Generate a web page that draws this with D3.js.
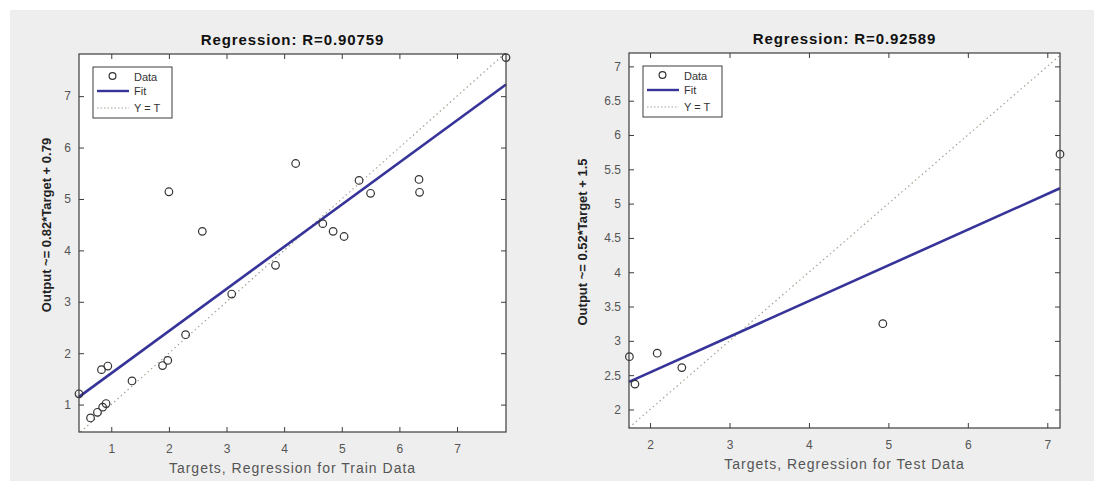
<!DOCTYPE html>
<html>
<head>
<meta charset="utf-8">
<script src="https://cdn.jsdelivr.net/npm/d3@7"></script>
<style>
  body { margin: 0; background: #fff; }
  text { font-family: "Liberation Sans", Arial, sans-serif; }
</style>
</head>
<body>
<div id="chart"></div>
<script>
// train data (targets vs network outputs)
const trainTargets = [0.44, 0.64, 0.76, 0.85, 0.91, 0.83, 0.94, 1.36, 1.89, 1.98, 2.29, 2.00, 2.58, 3.09, 3.85, 4.20, 4.67, 4.85, 5.04, 5.30, 5.50, 6.34, 6.35, 7.85];
const trainOutputs = [1.21, 0.74, 0.85, 0.95, 1.02, 1.68, 1.75, 1.46, 1.76, 1.86, 2.36, 5.14, 4.37, 3.15, 3.71, 5.69, 4.52, 4.37, 4.27, 5.36, 5.11, 5.38, 5.13, 7.75];
const trainFit = [0.82, 0.79]; // slope, intercept
const trainXTicks = [1, 2, 3, 4, 5, 6, 7];
const trainYTicks = [1, 2, 3, 4, 5, 6, 7];

// test data
const testTargets = [1.74, 1.81, 2.09, 2.40, 4.93, 7.16];
const testOutputs = [2.77, 2.37, 2.82, 2.61, 3.25, 5.72];
const testFit = [0.52, 1.5];
const testXTicks = [2, 3, 4, 5, 6, 7];
const testYTicks = [2, 2.5, 3, 3.5, 4, 4.5, 5, 5.5, 6, 6.5, 7];

const legendLabels = ["Data", "Fit", "Y = T"];

const W = 1094, H = 481;
const fitColor = "#363399";
const axisColor = "#3c3c3c";

const svg = d3.select("#chart").append("svg")
  .attr("width", W).attr("height", H);

svg.append("rect").attr("width", W).attr("height", H).attr("fill", "#fff");
svg.append("rect").attr("x", 10).attr("y", 10).attr("width", W - 10).attr("height", H - 10).attr("fill", "#eeeeee");

function drawPanel(opt) {
  const w = opt.right - opt.left, h = opt.bottom - opt.top;
  const g = svg.append("g").attr("transform", "translate(" + opt.left + "," + opt.top + ")");

  const x = d3.scaleLinear().domain(opt.xDomain).range([0, w]);
  const y = d3.scaleLinear().domain(opt.yDomain).range([h, 0]);

  g.append("rect").attr("width", w).attr("height", h).attr("fill", "#fff");

  // Y = T line
  const lo = Math.max(opt.xDomain[0], opt.yDomain[0]);
  const hi = Math.min(opt.xDomain[1], opt.yDomain[1]);
  g.append("line")
    .attr("x1", x(lo)).attr("y1", y(lo))
    .attr("x2", x(hi)).attr("y2", y(hi))
    .attr("stroke", "#a3a394").attr("stroke-width", 1.2)
    .attr("stroke-dasharray", "1.5,3");

  // fit line
  const fx = opt.xDomain;
  g.append("path")
    .datum(fx.map(v => [v, opt.fit[0] * v + opt.fit[1]]))
    .attr("fill", "none")
    .attr("stroke", fitColor)
    .attr("stroke-width", 2.6)
    .attr("d", d3.line().x(d => x(d[0])).y(d => y(d[1])));

  // data points
  g.append("g").selectAll("circle")
    .data(opt.targets.map((t, i) => [t, opt.outputs[i]]))
    .enter().append("circle")
    .attr("cx", d => x(d[0]))
    .attr("cy", d => y(d[1]))
    .attr("r", 3.8)
    .attr("fill", "none")
    .attr("stroke", "#333")
    .attr("stroke-width", 1.2);

  // axes, ticks pointing inward
  const bottom = g.append("g").attr("transform", "translate(0," + h + ")")
    .call(d3.axisBottom(x).tickValues(opt.xTicks).tickSize(-5).tickPadding(12).tickFormat(d3.format("")));
  const left = g.append("g")
    .call(d3.axisLeft(y).tickValues(opt.yTicks).tickSize(-5).tickPadding(8).tickFormat(d3.format("")));
  const top = g.append("g")
    .call(d3.axisTop(x).tickValues(opt.xTicks).tickSize(-5).tickFormat(""));
  const rightAx = g.append("g").attr("transform", "translate(" + w + ",0)")
    .call(d3.axisRight(y).tickValues(opt.yTicks).tickSize(-5).tickFormat(""));

  [bottom, left, top, rightAx].forEach(a => {
    a.select(".domain").remove();
    a.selectAll("line").attr("stroke", axisColor);
    a.selectAll("text").attr("font-size", 12).attr("fill", "#555")
      .attr("font-family", "Liberation Sans, Arial, sans-serif");
  });

  g.append("rect").attr("width", w).attr("height", h)
    .attr("fill", "none").attr("stroke", axisColor).attr("stroke-width", 1.2);

  // legend
  const lg = g.append("g").attr("transform", "translate(14,13)");
  lg.append("rect").attr("width", 79).attr("height", 51)
    .attr("fill", "#fff").attr("stroke", axisColor).attr("stroke-width", 1);
  const rows = [10, 24, 41];
  lg.append("circle").attr("cx", 19.5).attr("cy", rows[0] - 1).attr("r", 3.4)
    .attr("fill", "none").attr("stroke", "#333").attr("stroke-width", 1.2);
  lg.append("line").attr("x1", 4).attr("x2", 36).attr("y1", rows[1]).attr("y2", rows[1])
    .attr("stroke", fitColor).attr("stroke-width", 2.4);
  lg.append("line").attr("x1", 4).attr("x2", 36).attr("y1", rows[2]).attr("y2", rows[2])
    .attr("stroke", "#a3a394").attr("stroke-width", 1.2).attr("stroke-dasharray", "1.5,2");
  lg.selectAll("text.lab").data(legendLabels).enter().append("text")
    .attr("class", "lab")
    .attr("x", 41).attr("y", (d, i) => rows[i] + 4)
    .attr("font-size", 11).attr("fill", "#333")
    .text(d => d);

  // title and labels
  g.append("text").attr("x", w / 2).attr("y", -9)
    .attr("text-anchor", "middle").attr("font-size", 15).attr("font-weight", "bold")
    .attr("letter-spacing", 0.9).attr("fill", "#111")
    .text(opt.title);
  g.append("text").attr("x", w / 2).attr("y", h + 41)
    .attr("text-anchor", "middle").attr("font-size", 14)
    .attr("letter-spacing", 1).attr("fill", "#555")
    .text(opt.xLabel);
  g.append("text")
    .attr("transform", "translate(" + opt.yLabelX + "," + opt.yLabelY + ") rotate(-90)")
    .attr("text-anchor", "middle").attr("font-size", 13).attr("font-weight", "bold")
    .attr("fill", "#222")
    .text(opt.yLabel);
}

drawPanel({
  left: 79, right: 506, top: 54, bottom: 432,
  xDomain: [0.44, 7.85], yDomain: [0.467, 7.82],
  targets: trainTargets, outputs: trainOutputs, fit: trainFit,
  xTicks: trainXTicks, yTicks: trainYTicks,
  title: "Regression: R=0.90759",
  xLabel: "Targets, Regression for Train Data",
  yLabel: "Output ~= 0.82*Target + 0.79",
  yLabelX: -28, yLabelY: 171
});

drawPanel({
  left: 629, right: 1060, top: 53, bottom: 428,
  xDomain: [1.735, 7.16], yDomain: [1.73, 7.195],
  targets: testTargets, outputs: testOutputs, fit: testFit,
  xTicks: testXTicks, yTicks: testYTicks,
  title: "Regression: R=0.92589",
  xLabel: "Targets, Regression for Test Data",
  yLabel: "Output ~= 0.52*Target + 1.5",
  yLabelX: -42, yLabelY: 189
});
</script>
</body>
</html>
